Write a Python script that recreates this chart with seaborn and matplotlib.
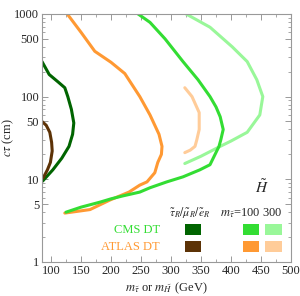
import numpy as np
import pandas as pd
import matplotlib
matplotlib.use("Agg")
import matplotlib.pyplot as plt
from matplotlib.patches import Rectangle
from matplotlib.ticker import FixedLocator, LogLocator, NullFormatter
import seaborn as sns

# curves: mass (GeV) vs c*tau (cm)
cms_slep_x = [85, 97, 112, 123, 128, 134, 138, 136, 130, 118, 103, 86]
cms_slep_y = [265, 185, 150, 128, 100, 70, 48, 35, 25, 18, 13, 9.5]

atlas_slep_x = [85, 92, 98, 101, 102, 99, 94, 87]
atlas_slep_y = [50, 45, 37, 28, 22, 16, 13, 10.4]

cms_h100_x = [245, 265, 290, 320, 345, 365, 375, 382, 387, 383, 380, 365, 348, 320, 293, 265, 248, 220, 200, 182, 150, 125]
cms_h100_y = [1000, 790, 500, 265, 160, 100, 75, 57, 40, 30, 25, 15, 13, 10.7, 9.3, 7.9, 7.0, 6.3, 5.8, 5.3, 4.6, 4.0]

atlas_h100_x = [127, 150, 173, 200, 223, 248, 265, 280, 285, 284, 278, 273, 260, 248, 230, 198, 165, 123]
atlas_h100_y = [1000, 600, 353, 260, 190, 100, 60, 35, 25, 20, 16, 12, 9.3, 8.5, 7.0, 5.6, 4.3, 3.9]

cms_h300_x = [325, 365, 402, 427, 443, 453, 448, 427, 400, 382, 350, 323]
cms_h300_y = [1000, 690, 400, 265, 160, 100, 60, 37, 29, 25, 19, 15.5]

atlas_h300_x = [323, 335, 347, 347, 343, 340, 332, 323]
atlas_h300_y = [128, 100, 64, 40, 30, 25, 22.5, 21]

dark_green = "#006400"
brown = "#5c3206"
green = "#33dd33"
light_green = "#99f799"
orange = "#ff9933"
light_orange = "#ffcc99"

sns.set_style("ticks")
plt.rcParams["font.family"] = ["Liberation Serif", "DejaVu Serif"]
plt.rcParams["mathtext.fontset"] = "stix"

fig = plt.figure(figsize=(3.0, 2.96), dpi=100)
ax = fig.add_axes([0.14, 0.115, 0.83, 0.838])

curves = [
    (cms_slep_x, cms_slep_y, dark_green),
    (atlas_slep_x, atlas_slep_y, brown),
    (cms_h300_x, cms_h300_y, light_green),
    (atlas_h300_x, atlas_h300_y, light_orange),
    (atlas_h100_x, atlas_h100_y, orange),
    (cms_h100_x, cms_h100_y, green),
]
for xs, ys, c in curves:
    df = pd.DataFrame({"m": xs, "ctau": ys})
    sns.lineplot(data=df, x="m", y="ctau", sort=False, estimator=None, errorbar=None,
                 color=c, lw=2.2, ax=ax)

ax.set_yscale("log")
ax.set_xlim(85, 500)
ax.set_ylim(1, 1000)

ax.xaxis.set_major_locator(FixedLocator([100, 150, 200, 250, 300, 350, 400, 450, 500]))
ax.xaxis.set_minor_locator(FixedLocator(np.arange(100, 501, 25)))
ax.set_yticks([1, 5, 10, 50, 100, 500, 1000])
ax.set_yticklabels(["1", "5", "10", "50", "100", "500", "1000"])
ax.yaxis.set_minor_locator(LogLocator(base=10, subs=np.arange(2, 10)))
ax.yaxis.set_minor_formatter(NullFormatter())

ax.tick_params(which="both", direction="in", top=True, right=True, color="#999999",
               labelsize=9, pad=2)
ax.tick_params(which="major", length=4, width=0.7)
ax.tick_params(which="minor", length=2, width=0.6)
for s in ax.spines.values():
    s.set_color("#999999")
    s.set_linewidth(0.8)

ax.set_xlabel(r"$m_{\tilde\tau}$ or $m_{\tilde H}$ (GeV)", fontsize=9, labelpad=3)
ax.set_ylabel(r"$c\tau$ (cm)", fontsize=9)
ax.yaxis.set_label_coords(-0.105, 0.5)

# legend block
tr = ax.transAxes
ax.text(0.884, 0.30, r"$\tilde H$", transform=tr, fontsize=11, ha="center", va="center")
ax.text(0.594, 0.198, r"$\tilde\tau_R/\tilde\mu_R/\tilde e_R$", transform=tr, fontsize=8.5,
        ha="center", va="center")
ax.text(0.84, 0.198, r"$m_{\tilde\tau}$=100 300", transform=tr, fontsize=9,
        ha="center", va="center")
ax.text(0.474, 0.129, "CMS DT", transform=tr, fontsize=9, color=green, ha="right", va="center")
ax.text(0.474, 0.060, "ATLAS DT", transform=tr, fontsize=9, color=orange, ha="right", va="center")

boxes = [
    (0.574, 0.109, dark_green), (0.574, 0.040, brown),
    (0.807, 0.109, green), (0.807, 0.040, orange),
    (0.896, 0.109, light_green), (0.896, 0.040, light_orange),
]
for bx, by, c in boxes:
    ax.add_patch(Rectangle((bx, by), 0.066, 0.044, transform=tr, color=c, lw=0))

fig.savefig("out.png", dpi=100)
